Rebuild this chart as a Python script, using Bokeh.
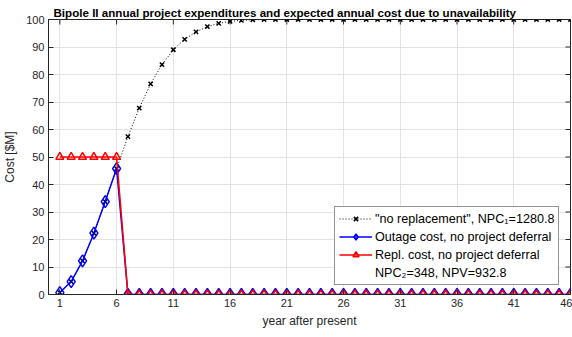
import math
from bokeh.plotting import figure
from bokeh.models import (Range1d, FixedTicker, Legend, LegendItem, Title)
from bokeh.embed import file_html
from bokeh.resources import INLINE

# ---- data ----
years = list(range(1, 47))
no_replacement = [0.7, 4.7, 12.2, 22.3, 33.8, 45.8, 57.4, 67.8, 76.6, 83.6,
                  89.0, 92.8, 95.5, 97.4, 98.6, 99.3, 99.7, 99.9, 100, 100,
                  100, 100, 100, 100, 100, 100, 100, 100, 100, 100,
                  100, 100, 100, 100, 100, 100, 100, 100, 100, 100,
                  100, 100, 100, 100, 100, 100]
outage_cost = [0.7, 4.7, 12.2, 22.3, 33.8, 45.8] + [0] * 40
repl_cost = [50, 50, 50, 50, 50, 50] + [0] * 40
x_ticks = [1, 6, 11, 16, 21, 26, 31, 36, 41, 46]
y_ticks = [0, 10, 20, 30, 40, 50, 60, 70, 80, 90, 100]
x_min, x_max = 0, 46
y_min, y_max = 0, 100
title_text = "Bipole II annual project expenditures and expected annual cost due to unavailability"
label_1 = "\"no replacement\", NPC\u2081=1280.8"
label_2 = "Outage cost, no project deferral"
label_3 = "Repl. cost, no project deferral"
label_4 = "NPC\u2082=348, NPV=932.8"

FONT = "Liberation Sans"
AX = "#262626"

p = figure(width=572, height=337, output_backend="svg", toolbar_location=None,
           x_range=Range1d(x_min, x_max), y_range=Range1d(y_min, y_max),
           min_border_left=46, min_border_right=2, min_border_top=19, min_border_bottom=43)
p.title = Title(text=title_text, align="left", offset=5, text_font=FONT,
                text_font_size="11.6px", text_font_style="bold", text_color="black",
                standoff=2)

for ax in [p.xaxis[0], p.yaxis[0]]:
    ax.axis_line_color = AX
    ax.major_tick_line_color = AX
    ax.major_tick_in = 5
    ax.major_tick_out = 0
    ax.minor_tick_line_color = None
    ax.major_label_text_font = FONT
    ax.major_label_text_font_size = "11px"
    ax.major_label_text_color = AX
    ax.axis_label_text_font = FONT
    ax.axis_label_text_font_size = "12px"
    ax.axis_label_text_font_style = "normal"
    ax.axis_label_text_color = AX

p.xaxis.ticker = FixedTicker(ticks=x_ticks)
p.yaxis.ticker = FixedTicker(ticks=y_ticks)
p.xaxis.axis_label = "year after present"
p.yaxis.axis_label = "Cost [$M]"
p.xaxis.major_label_standoff = 4
p.yaxis.major_label_standoff = 4
p.xaxis.axis_label_standoff = 4
p.yaxis.axis_label_standoff = 6

p.xgrid.ticker = FixedTicker(ticks=x_ticks)
p.ygrid.ticker = FixedTicker(ticks=y_ticks)
p.grid.grid_line_color = "#e3e3e3"
p.outline_line_color = AX

# inward ticks on top and right box edges (clipped to the frame)
p.scatter(x_ticks, [y_max] * len(x_ticks), marker="dash", size=10, angle=math.pi / 2,
          line_color=AX, line_width=1)
p.scatter([x_max] * len(y_ticks), y_ticks, marker="dash", size=10,
          line_color=AX, line_width=1)

# series
l1 = p.line(years, no_replacement, line_color="black", line_width=1, line_dash="1 2")
s1 = p.scatter(years, no_replacement, marker="x", size=6, line_color="black", line_width=1.5)
l2 = p.line(years, outage_cost, line_color="#0000ff", line_width=1.5)
s2 = p.scatter(years, outage_cost, marker="diamond", size=12, line_color="#0000ff",
               fill_color=None, line_width=1.5)
l3 = p.line(years, repl_cost, line_color="#ff0000", line_width=1.5)
s3 = p.scatter(years, repl_cost, marker="triangle", size=8, line_color="#ff0000",
               fill_color=None, line_width=1.5)
blank = p.line([], [], line_alpha=0)

legend = Legend(items=[
    LegendItem(label=label_1, renderers=[l1, s1]),
    LegendItem(label=label_2, renderers=[l2, s2]),
    LegendItem(label=label_3, renderers=[l3, s3]),
    LegendItem(label=label_4, renderers=[blank]),
], location=(286, 9), label_text_font=FONT, label_text_font_size="12.6px",
    label_text_color="black", label_height=15, label_standoff=3, glyph_width=33,
    glyph_height=15, spacing=3, padding=4, margin=0,
    border_line_color=AX, border_line_width=1, background_fill_alpha=1)
p.add_layout(legend, "center")

open("out.html", "w").write(file_html(p, INLINE))
